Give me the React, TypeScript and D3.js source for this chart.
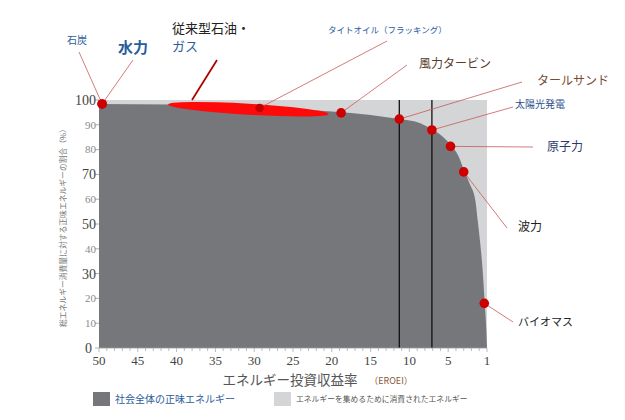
import React from 'react';
import * as d3 from 'd3';

// EROEI axis (reversed: 50 on the left, the last tick is labelled 1)
const eroeiTicks = [50, 45, 40, 35, 30, 25, 20, 15, 10, 5, 0];
const eroeiTickLabels = ['50', '45', '40', '35', '30', '25', '20', '15', '10', '5', '1'];
const netTicks = [0, 10, 20, 30, 40, 50, 60, 70, 80, 90, 100];
const netTicksLarge = [0, 30, 50, 70, 100];

// Net energy curve (EROEI -> % net energy)
const curveEroei = [50, 41, 30, 20, 15, 11.3, 8.6, 7.1, 5.8, 4.7, 3.7, 3.0, 2.2, 1.5, 1.2, 0.9, 0.6, 0.3, 0.1, 0];
const curveNet = [98.4, 98.2, 96.9, 95.4, 94.0, 92.3, 90.6, 88.2, 85.5, 82, 77.5, 72, 66, 59.5, 51.5, 43, 33, 18.5, 8, 0];

// Energy sources
const sourceNames = ['石炭', '水力', 'タイトオイル（フラッキング）', '風力タービン', 'タールサンド', '太陽光発電', '原子力', '波力', 'バイオマス'];
const sourceEroei = [49.6, 49.6, 29.3, 18.8, 11.3, 7.1, 4.7, 3.0, 0.35];
const sourceNet = [98.4, 98.4, 96.8, 94.8, 92.3, 87.9, 81.3, 71.0, 18.0];

// Conventional oil & gas range (drawn as an ellipse)
const oilGasEroei = [41.1, 20.4];
const oilGasNet = [98.2, 94.4];

// Marker lines
const markerEroei = [11.3, 7.1];

// Label layout for the annotations (pixels)
const labelLayout = [
  { x: 67, y: 44, lx: 79, ly: 52, size: 10, color: '#2b5c9c', weight: 400 },
  { x: 118, y: 53, lx: 133, ly: 60, size: 15, color: '#2b5c9c', weight: 700 },
  { x: 328, y: 33, lx: 387, ly: 41, size: 8.5, color: '#2b5c9c', weight: 400 },
  { x: 419, y: 68, lx: 407, ly: 65, size: 12, color: '#5a3b2e', weight: 400 },
  { x: 537, y: 85, lx: 522, ly: 82, size: 12, color: '#7a4a33', weight: 400 },
  { x: 515, y: 108, lx: 513, ly: 107, size: 10, color: '#2b4f8c', weight: 400 },
  { x: 547, y: 151, lx: 533, ly: 147, size: 12, color: '#2a3a6a', weight: 400 },
  { x: 518, y: 231, lx: 507, ly: 228, size: 12, color: '#222', weight: 400 },
  { x: 518, y: 326, lx: 513, ly: 322, size: 11, color: '#222', weight: 400 },
];

const W = 625;
const H = 420;
const plot = { left: 99, right: 487, top: 100, bottom: 348 };
const JP = '"Noto Sans CJK JP", "Noto Sans", sans-serif';
const SERIF = '"Liberation Serif", "DejaVu Serif", serif';

const App: React.FC = () => {
  const x = d3.scaleLinear().domain([50, 0]).range([plot.left, plot.right]);
  const y = d3.scaleLinear().domain([0, 100]).range([plot.bottom, plot.top]);

  const curveData = curveEroei.map((e, i) => ({ e, n: curveNet[i] }));
  const area = d3
    .area<{ e: number; n: number }>()
    .x((d) => x(d.e))
    .y0(y(0))
    .y1((d) => y(d.n))
    .curve(d3.curveMonotoneX);

  // ellipse for conventional oil & gas
  const ex0 = x(oilGasEroei[0]);
  const ey0 = y(oilGasNet[0]);
  const ex1 = x(oilGasEroei[1]);
  const ey1 = y(oilGasNet[1]);
  const ecx = (ex0 + ex1) / 2;
  const ecy = (ey0 + ey1) / 2;
  const erx = Math.hypot(ex1 - ex0, ey1 - ey0) / 2;
  const eangle = (Math.atan2(ey1 - ey0, ex1 - ex0) * 180) / Math.PI;

  const minorTicks = d3.range(0, 51, 1);

  return (
    <div style={{ position: 'absolute', left: 0, top: 0 }}>
      <svg width={W} height={H} style={{ display: 'block', background: '#fff' }}>
        {/* background: energy consumed */}
        <rect
          x={plot.left}
          y={plot.top}
          width={plot.right - plot.left}
          height={plot.bottom - plot.top}
          fill='#d4d5d6'
        />
        {/* net energy area */}
        <path d={area(curveData) ?? ''} fill='#76777b' />

        {/* marker lines */}
        {markerEroei.map((m, i) => (
          <line key={i} x1={x(m)} x2={x(m)} y1={plot.top} y2={plot.bottom} stroke='#111' strokeWidth={1.3} />
        ))}

        {/* y axis */}
        {netTicks.map((t) => {
          const large = netTicksLarge.includes(t);
          return (
            <g key={t}>
              <line x1={plot.left - 4} x2={plot.left} y1={y(t)} y2={y(t)} stroke='#999' strokeWidth={0.8} />
              <text
                x={t === 0 ? plot.left - 7 : plot.left - 3}
                y={y(t)}
                dy='0.35em'
                textAnchor='end'
                fontFamily={SERIF}
                fontSize={large ? 14 : 11}
                fill={large ? '#444' : '#8a8a8a'}
              >
                {t}
              </text>
            </g>
          );
        })}

        {/* x axis */}
        <line x1={plot.left} x2={plot.right} y1={plot.bottom} y2={plot.bottom} stroke='#999' strokeWidth={0.8} />
        {minorTicks.map((t) => (
          <line
            key={t}
            x1={x(t)}
            x2={x(t)}
            y1={plot.bottom}
            y2={plot.bottom + (t % 5 === 0 ? 4 : 3)}
            stroke='#aaa'
            strokeWidth={0.8}
          />
        ))}
        {eroeiTicks.map((t, i) => (
          <text key={t} x={x(t)} y={plot.bottom + 17} textAnchor='middle' fontFamily={SERIF} fontSize={13} fill='#444'>
            {eroeiTickLabels[i]}
          </text>
        ))}

        {/* axis titles */}
        <text x={290} y={385} textAnchor='middle' fontFamily={JP} fontSize={13.5} fill='#555'>
          エネルギー投資収益率
        </text>
        <text x={391} y={384} textAnchor='middle' fontFamily={JP} fontSize={9} fill='#8a5a3a'>
          （EROEI）
        </text>
        <text
          transform={`translate(66,${(plot.top + plot.bottom) / 2 + 2}) rotate(-90)`}
          textAnchor='middle'
          fontFamily={JP}
          fontSize={7.8}
          fill='#777'
        >
          総エネルギー消費量に対する正味エネルギーの割合（%）
        </text>

        {/* conventional oil & gas */}
        <line x1={217} y1={60} x2={192} y2={100} stroke='#b00000' strokeWidth={1.8} />
        <ellipse cx={ecx} cy={ecy} rx={erx} ry={5.5} transform={`rotate(${eangle},${ecx},${ecy})`} fill='#ff0a0a' />
        <text x={172} y={33} fontFamily={JP} fontSize={13} fill='#222'>
          従来型石油・
        </text>
        <text x={172} y={51} fontFamily={JP} fontSize={13} fill='#2b5c9c'>
          ガス
        </text>

        {/* leader lines, dots and labels */}
        {sourceNames.map((name, i) => {
          const l = labelLayout[i];
          return (
            <line
              key={'l' + i}
              x1={l.lx}
              y1={l.ly}
              x2={x(sourceEroei[i])}
              y2={y(sourceNet[i])}
              stroke='#c85a5a'
              strokeWidth={0.8}
            />
          );
        })}
        {sourceNames.map((name, i) => (
          <circle
            key={'c' + i}
            cx={x(sourceEroei[i])}
            cy={y(sourceNet[i])}
            r={i === 2 ? 4.2 : 4.8}
            fill={i === 2 ? '#c40000' : '#cc0000'}
          />
        ))}
        {sourceNames.map((name, i) => {
          const l = labelLayout[i];
          return (
            <text key={'t' + i} x={l.x} y={l.y} fontFamily={JP} fontSize={l.size} fontWeight={l.weight} fill={l.color}>
              {name}
            </text>
          );
        })}

        {/* legend */}
        <rect x={93} y={392} width={17} height={14} fill='#76777b' />
        <text x={115} y={403} fontFamily={JP} fontSize={10} fill='#2b5c9c'>
          社会全体の正味エネルギー
        </text>
        <rect x={274} y={392} width={17} height={14} fill='#d4d5d6' />
        <text x={296} y={402} fontFamily={JP} fontSize={7.8} fill='#555'>
          エネルギーを集めるために消費されたエネルギー
        </text>
      </svg>
    </div>
  );
};

export default App;
